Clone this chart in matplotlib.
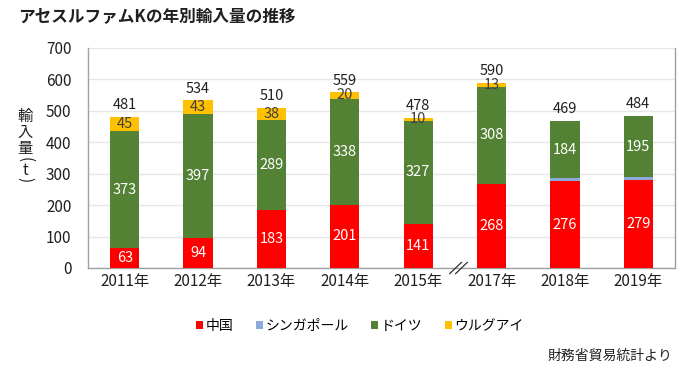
import numpy as np
import matplotlib
matplotlib.use('Agg')
import matplotlib.pyplot as plt

plt.rcParams['font.family'] = ['Noto Sans CJK JP', 'DejaVu Sans']

# %% data
years = ['2011年', '2012年', '2013年', '2014年', '2015年', '2017年', '2018年', '2019年']
china = [63, 94, 183, 201, 141, 268, 276, 279]
singapore = [0, 0, 0, 0, 0, 0, 9, 10]
germany = [373, 397, 289, 338, 327, 308, 184, 195]
uruguay = [45, 43, 38, 20, 10, 13, 0, 0]
totals = [481, 534, 510, 559, 478, 590, 469, 484]

series = [('中国', china, '#FF0000', 'white'),
          ('シンガポール', singapore, '#8EA9DB', None),
          ('ドイツ', germany, '#548235', 'white'),
          ('ウルグアイ', uruguay, '#FFC000', '#404040')]

# %% plot
fig = plt.figure(figsize=(6.99, 3.80), dpi=100)
ax = fig.add_axes([88/699, 1 - 268/380, 587/699, 220/380])

x = np.arange(len(years))
bottom = np.zeros(len(years))
for name, vals, color, tcolor in series:
    vals = np.array(vals, dtype=float)
    ax.bar(x, vals, 0.4, bottom=bottom, color=color, label=name, zorder=3)
    if tcolor:
        for xi, b, v in zip(x, bottom, vals):
            if v > 0:
                ax.text(xi, b + v / 2, f'{int(v)}', ha='center', va='center',
                        color=tcolor, fontsize=10.5, zorder=4)
    bottom += vals

for xi, t in zip(x, totals):
    ax.text(xi, max(bottom[xi], t) + 14, f'{t}', ha='center', va='bottom',
            color='#202020', fontsize=10.5, zorder=4)

ax.set_xlim(-0.5, len(years) - 0.5)
ax.set_ylim(0, 700)
ax.set_yticks(range(0, 701, 100))
ax.set_xticks(x)
ax.set_xticklabels(years)
ax.tick_params(axis='both', length=0, labelsize=11, colors='#202020')
ax.tick_params(axis='y', pad=12)
ax.grid(axis='y', color='#E6E6E6', linewidth=1, zorder=0)
for s in ax.spines.values():
    s.set_color('#A0A0A0')
    s.set_linewidth(1)
ax.spines['top'].set_visible(False)

# break mark between 2015 and 2017
bx = 4.55
for dx in (-0.04, 0.04):
    ax.plot([bx + dx - 0.08, bx + dx + 0.08], [-18, 18], color='#303030',
            linewidth=0.9, clip_on=False, zorder=5)

# vertical y label (parentheses turned for vertical writing)
ylab_chars = ['輸', '入', '量', '(', 't', ')']
ylab_ypos = [116, 132, 148, 160, 170, 180]
ylab_rot = [0, 0, 0, 270, 0, 270]
for ch, yp, rot in zip(ylab_chars, ylab_ypos, ylab_rot):
    fig.text(25/699, 1 - yp/380, ch, ha='center', va='center', rotation=rot,
             fontsize=11, color='#202020')

fig.text(18/699, 1 - 17/380, 'アセスルファムKの年別輸入量の推移', ha='left', va='center',
         fontsize=12, fontweight='bold', color='#202020')

handles, labels = ax.get_legend_handles_labels()
fig.legend(handles, labels, loc='center', bbox_to_anchor=(360/699, 1 - 326/380),
           ncol=4, frameon=False, fontsize=10, handlelength=0.5, handleheight=0.5,
           handletextpad=0.2, columnspacing=1.6)

fig.text(672/699, 1 - 356/380, '財務省貿易統計より', ha='right', va='center',
         fontsize=10, color='#202020')

fig.savefig('out.png', dpi=100)
